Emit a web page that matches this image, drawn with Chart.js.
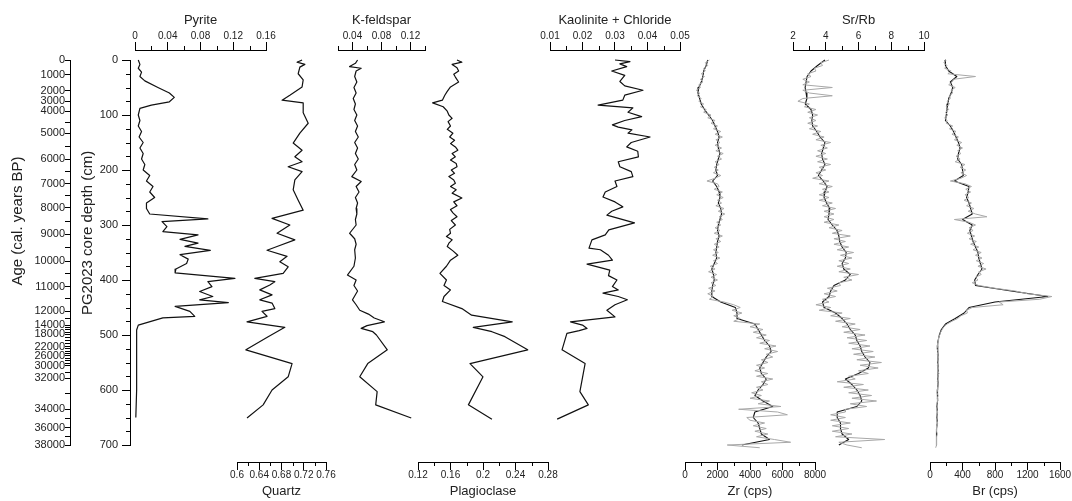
<!DOCTYPE html>
<html><head><meta charset="utf-8">
<script src="https://cdn.jsdelivr.net/npm/chart.js@4.4.1/dist/chart.umd.min.js"></script>
<style>
html,body{margin:0;padding:0;background:#fff;}
#wrap{position:relative;width:1072px;height:501px;overflow:hidden;background:#fff;}
#wrap canvas{position:absolute;top:0;}
</style></head><body><div id="wrap"></div>
<script>
// ---------------- DATA ----------------
// Age axis (labels and the core depth, cm, where each sits)
const ageLabels = ['0','1000','2000','3000','4000','5000','6000','7000','8000','9000','10000','11000','12000','14000','18000','22000','26000','30000','32000','34000','36000','38000'];
const ageLabelDepths = [0,27,56,75,93,133,180,225,269,317,366,412,457,482,499,521,538,556,579,635,669,700];
const ageMinor = [4500,5500,6500,7500,8500,9500,10500,11500,13000,15000,16000,17000,19000,20000,21000,23000,24000,25000,27000,28000,29000,31000,33000,35000,37000];
const depthTicks = [0,100,200,300,400,500,600,700];

// Mineral series (depth cm / fraction)
const pyriteDepth = [0,8,15,22,30,38,50,60,68,76,82,88,100,110,120,130,140,150,160,170,180,190,200,210,220,230,240,250,260,270,280,289,294,303,312,318,326,333,339,346,354,362,370,380,387,397,403,412,421,430,436,441,448,457,466,469,482,491,520,560,600,650];
const pyrite = [0.004,0.006,0.004,0.008,0.006,0.012,0.028,0.042,0.048,0.042,0.02,0.006,0.004,0.006,0.004,0.008,0.005,0.01,0.006,0.01,0.008,0.012,0.01,0.018,0.014,0.022,0.018,0.024,0.014,0.014,0.018,0.089,0.033,0.039,0.034,0.077,0.055,0.077,0.061,0.092,0.055,0.065,0.063,0.05,0.049,0.122,0.089,0.094,0.079,0.095,0.079,0.114,0.049,0.067,0.073,0.034,0.004,0.002,0.002,0.002,0.002,0.001];

const quartzDepth = [0,4,8,13,25,36,49,64,73,78,96,115,133,151,164,176,185,194,203,218,236,255,273,288,300,315,327,339,346,357,367,376,388,397,403,409,418,427,436,442,452,457,466,476,486,503,527,552,576,600,627,651];
const quartz = [0.717,0.708,0.722,0.713,0.710,0.719,0.717,0.695,0.681,0.719,0.719,0.728,0.713,0.701,0.717,0.704,0.717,0.692,0.717,0.704,0.701,0.710,0.719,0.663,0.695,0.672,0.704,0.672,0.654,0.690,0.677,0.692,0.683,0.632,0.668,0.659,0.641,0.663,0.641,0.663,0.668,0.645,0.654,0.618,0.686,0.656,0.616,0.699,0.692,0.663,0.647,0.618];

const kfDepth = [0,6,12,15,20,30,40,50,60,70,80,90,100,110,120,130,140,150,160,170,180,190,200,212,221,230,240,250,260,270,280,290,300,315,325,335,345,360,375,391,400,410,420,436,445,455,462,469,476,483,488,494,500,527,552,576,603,627,651];
const kfeldspar = [0.047,0.044,0.036,0.052,0.045,0.043,0.046,0.042,0.045,0.041,0.044,0.042,0.046,0.043,0.047,0.044,0.048,0.043,0.047,0.044,0.048,0.043,0.046,0.039,0.052,0.045,0.049,0.044,0.047,0.045,0.046,0.044,0.045,0.036,0.043,0.045,0.043,0.044,0.042,0.033,0.045,0.042,0.047,0.040,0.045,0.050,0.062,0.070,0.084,0.060,0.052,0.068,0.073,0.088,0.061,0.050,0.074,0.072,0.121];

const plagDepth = [0,4,8,14,20,26,31,40,49,57,64,73,78,85,93,100,106,112,120,126,133,140,146,152,158,164,170,176,182,188,194,200,206,212,218,224,230,236,242,251,258,265,272,278,285,292,300,308,315,321,327,333,339,347,355,364,375,388,400,410,418,430,439,452,464,476,486,494,503,527,552,576,627,653];
const plagioclase = [0.168,0.174,0.162,0.168,0.170,0.164,0.166,0.170,0.160,0.156,0.153,0.150,0.138,0.151,0.156,0.158,0.162,0.157,0.160,0.156,0.163,0.159,0.165,0.160,0.166,0.169,0.162,0.166,0.160,0.167,0.168,0.161,0.165,0.158,0.164,0.166,0.160,0.167,0.162,0.174,0.164,0.168,0.160,0.163,0.168,0.161,0.166,0.159,0.160,0.155,0.162,0.158,0.156,0.163,0.169,0.160,0.155,0.147,0.155,0.152,0.160,0.152,0.150,0.174,0.186,0.236,0.188,0.211,0.227,0.255,0.184,0.200,0.182,0.211];

const kaoDepth = [0,3,7,12,20,28,39,47,55,64,73,82,87,95,103,110,118,122,127,133,140,150,158,166,176,185,194,203,212,220,230,240,249,258,267,275,282,296,309,318,327,342,345,355,364,371,382,392,400,412,418,424,430,436,445,455,467,476,482,488,492,497,527,552,603,627,653];
const kaolinite = [0.030,0.0346,0.0315,0.0336,0.029,0.033,0.0315,0.033,0.0386,0.033,0.0324,0.0248,0.0355,0.034,0.0382,0.033,0.0292,0.031,0.0352,0.034,0.0408,0.035,0.0336,0.037,0.0372,0.031,0.0315,0.035,0.0355,0.030,0.0306,0.027,0.0263,0.030,0.0324,0.029,0.0275,0.036,0.0281,0.027,0.0229,0.0220,0.0255,0.028,0.0292,0.0214,0.0284,0.028,0.0306,0.0292,0.031,0.0263,0.031,0.0338,0.030,0.0275,0.0300,0.0163,0.020,0.0214,0.019,0.0152,0.0137,0.0208,0.0192,0.0218,0.0122];

// XRF series: raw every 5 cm (grey), smoothed every 10 cm (black), from 0 cm
const RAW_STEP = 5, SMOOTH_STEP = 10;
const zrRaw = [1500,1250,1400,1150,1250,1000,1200,950,1100,850,
 950,700,900,750,1000,850,1150,950,1300,1150,
 1600,1400,1850,1600,2000,1750,2200,1850,2300,1900,
 2150,1850,2250,1900,2350,2000,2250,1850,2100,1800,
 2050,1750,2200,1850,1350,2000,2100,1800,2300,1950,
 2350,2000,2250,1900,2400,2050,2450,2100,2300,1950,
 2200,1850,2150,1800,2300,1900,2200,1800,2100,1750,
 2050,1700,2150,1750,2000,1550,1850,1450,1950,1600,
 2000,1600,1900,1450,1850,1400,1750,1500,2400,3000,
 3400,2900,3500,3000,3400,3000,4600,4000,4800,4200,
 5000,4400,5200,4600,5600,4900,5700,5000,5400,4700,
 5100,4400,4900,4300,5100,4400,5400,4700,5100,4400,
 4800,4100,4700,4000,5200,4500,5900,3300,5700,6300,
 3800,4000,4900,4200,5000,4300,5100,4400,5500,6500,
 2600,4600];
const zrSmooth = [1400,1300,1150,1100,1000,850,800,900,1000,1200,
 1450,1700,1850,2000,2100,2000,2050,2150,2050,1950,
 1900,2000,1700,1950,2100,2150,2050,2200,2250,2150,
 2050,2000,2100,2000,1950,1900,1950,1800,1650,1750,
 1800,1700,1650,1650,2200,3100,3200,3200,4300,4500,
 4700,4900,5200,5300,5000,4800,4600,4700,5000,4800,
 4500,4300,4800,5400,4300,4200,4500,4600,4700,5200,
 3500];

const srRaw = [4.2,3.7,3.8,3.3,3.4,2.9,3.1,2.6,3.0,2.6,
 4.4,2.6,3.0,4.4,2.6,2.3,3.0,2.7,3.4,2.9,
 3.5,3.0,3.4,2.9,3.5,3.0,3.7,3.2,3.9,3.4,
 4.3,3.7,4.1,3.5,4.0,3.4,4.1,3.5,4.3,3.6,
 4.0,3.4,3.8,3.2,4.2,3.6,4.4,3.8,4.2,3.6,
 4.2,3.6,4.4,3.8,4.6,3.9,4.5,3.9,4.5,3.9,
 4.8,4.2,5.0,4.4,5.5,4.5,5.2,4.5,5.4,4.7,
 5.7,4.9,5.6,4.8,5.4,4.7,5.5,4.8,6.0,5.1,
 5.6,4.8,4.9,4.1,4.7,3.9,4.6,3.8,4.2,3.4,
 4.3,3.6,5.0,4.3,5.5,4.6,5.8,5.0,6.1,5.1,
 6.4,5.3,6.5,5.4,6.7,5.6,6.9,5.7,7.0,5.9,
 7.4,6.1,7.2,6.0,6.6,5.4,5.8,4.7,6.3,5.1,
 6.6,5.4,6.8,5.6,7.1,5.5,6.5,5.2,5.2,4.3,
 5.2,4.3,5.5,4.4,5.4,4.4,5.6,4.6,7.6,4.8,
 5.3,6.2];
const srSmooth = [3.95,3.5,3.1,2.86,2.8,2.74,2.8,2.85,2.75,3.1,
 3.2,3.15,3.2,3.45,3.65,3.95,3.85,3.75,3.8,3.95,
 3.75,3.55,3.85,4.08,3.95,3.9,4.05,4.25,4.2,4.14,
 4.4,4.69,4.8,4.85,5.0,5.25,5.2,5.0,5.1,5.5,
 5.2,4.5,4.3,4.2,3.8,3.9,4.6,5.0,5.3,5.5,
 5.8,5.9,6.1,6.2,6.4,6.7,6.6,6.0,5.2,5.6,
 5.9,6.1,6.2,5.9,4.7,4.7,4.9,4.9,5.0,5.4,
 4.8];

const brRaw = [200,170,210,180,260,220,560,290,270,230,
 310,260,280,240,250,210,240,200,230,190,
 220,180,210,200,280,240,320,270,350,300,
 390,330,400,340,380,320,370,310,430,370,
 440,380,450,380,250,430,510,440,500,430,
 480,420,510,450,540,470,560,700,300,480,
 560,480,530,460,550,480,570,500,600,530,
 630,560,640,570,660,590,690,600,630,560,
 590,520,600,800,1050,1200,1500,1350,850,900,
 520,450,460,380,340,270,210,170,150,130,
 120,105,105,95,95,85,100,90,105,95,
 100,90,105,95,110,95,100,90,105,95,
 95,85,100,90,95,85,90,80,95,85,
 90,80,95,85,85,75,90,80,85,75,
 80,70];
const brSmooth = [185,190,230,330,250,280,260,230,220,210,
 200,190,250,290,320,350,370,350,340,390,
 400,410,300,480,470,450,480,500,520,400,
 520,490,510,530,560,590,600,620,640,590,
 550,560,1000,1450,800,480,420,310,190,140,
 115,100,90,95,100,95,100,100,95,100,
 90,95,90,85,90,85,90,80,85,80,
 75];

// Axis ticks per panel
const pyriteTicks=[0,0.04,0.08,0.12,0.16], pyriteTickLabels=['0','0.04','0.08','0.12','0.16'], pyriteMinor=[0.02,0.06,0.10,0.14];
const quartzTicks=[0.6,0.64,0.68,0.72,0.76], quartzTickLabels=['0.6','0.64','0.68','0.72','0.76'], quartzMinor=[0.62,0.66,0.70,0.74];
const kfTicks=[0.04,0.08,0.12], kfTickLabels=['0.04','0.08','0.12'], kfMinor=[0.02,0.06,0.10,0.14];
const plagTicks=[0.12,0.16,0.2,0.24,0.28], plagTickLabels=['0.12','0.16','0.2','0.24','0.28'], plagMinor=[0.14,0.18,0.22,0.26];
const kaoTicks=[0.01,0.02,0.03,0.04,0.05], kaoTickLabels=['0.01','0.02','0.03','0.04','0.05'], kaoMinor=[0.015,0.025,0.035,0.045];
const zrTicks=[0,2000,4000,6000,8000], zrTickLabels=['0','2000','4000','6000','8000'], zrMinor=[1000,3000,5000,7000];
const srTicks=[2,4,6,8,10], srTickLabels=['2','4','6','8','10'], srMinor=[3,5,7,9];
const brTicks=[0,400,800,1200,1600], brTickLabels=['0','400','800','1200','1600'], brMinor=[200,600,1000,1400];

// ---------------- LAYOUT ----------------
const FONT = "'Liberation Sans', Arial, Helvetica, sans-serif";
const TXT = '#222';
const H = 501;
const AX_TOP = 50, AX_BOT = 462;      // pixel rows of top / bottom axis lines
const D0 = 60, D700 = 445;            // pixel rows of depth 0 and 700 cm
const PXCM = (D700 - D0) / 700;
const Y_MIN = -(D0 - AX_TOP) / PXCM, Y_MAX = 700 + (AX_BOT - D700) / PXCM;
const wrap = document.getElementById('wrap');

function makeCanvas(left, width){
  const c = document.createElement('canvas');
  c.width = width; c.height = H;
  c.style.left = left + 'px'; c.style.width = width + 'px'; c.style.height = H + 'px';
  wrap.appendChild(c);
  return c;
}
function minorPlugin(axisId, values, len, pos){
  return { id: 'minorTicks', afterDraw(chart){
    const s = chart.scales[axisId], ctx = chart.ctx;
    ctx.save(); ctx.strokeStyle = '#000'; ctx.lineWidth = 1; ctx.beginPath();
    values.forEach(v => {
      const p = Math.round(s.getPixelForValue(v)) + 0.5;
      if (pos === 'top'){ ctx.moveTo(p, s.bottom); ctx.lineTo(p, s.bottom - len); }
      else if (pos === 'bottom'){ ctx.moveTo(p, s.top); ctx.lineTo(p, s.top + len); }
      else { ctx.moveTo(s.right, p); ctx.lineTo(s.right - len, p); }
    });
    ctx.stroke(); ctx.restore();
  }};
}
function axisTitlePlugin(text, cx, cy, size){
  return { id: 'axisTitle', afterDraw(chart){
    const ctx = chart.ctx;
    ctx.save(); ctx.translate(cx, cy); ctx.rotate(-Math.PI / 2);
    ctx.font = size + 'px ' + FONT; ctx.fillStyle = TXT; ctx.textAlign = 'center'; ctx.textBaseline = 'middle';
    ctx.fillText(text, 0, 0); ctx.restore();
  }};
}
const zip = (ys, xs) => xs.map((x, i) => ({x, y: ys[i]})).filter(p => p.y !== undefined);
const stepPts = (vals, step) => vals.map((v, i) => ({x: v, y: i * step}));
const lineDs = (data, color, width) => ({data, showLine: true, borderColor: color, borderWidth: width, pointRadius: 0, borderJoinStyle: 'round', fill: false});

function panel(o){
  const pad = 28;
  const c = makeCanvas(o.x0 - pad, (o.x1 - o.x0) + 2 * pad);
  const top = o.pos === 'top';
  new Chart(c, {
    type: 'scatter',
    data: {datasets: o.datasets},
    options: {
      responsive: false, animation: false, devicePixelRatio: 1, events: [],
      layout: {padding: {left: pad, right: pad, top: top ? 0 : AX_TOP, bottom: top ? H - AX_BOT : 0}},
      plugins: {legend: {display: false}, tooltip: {enabled: false}},
      scales: {
        x: {
          type: 'linear', position: o.pos, min: o.min, max: o.max,
          afterFit(s){ s.height = top ? AX_TOP : H - AX_BOT; },
          afterBuildTicks(s){ s.ticks = o.ticks.map(v => ({value: v})); },
          grid: {drawOnChartArea: false, drawTicks: true, tickLength: 8, color: '#000', tickColor: '#000', lineWidth: 1},
          border: {display: true, color: '#000', width: 1},
          ticks: {autoSkip: false, maxRotation: 0, padding: top ? 0 : -1, color: TXT, font: {family: FONT, size: 10},
                  callback: (v, i) => o.labels[i]},
          title: {display: true, text: o.title, color: TXT, font: {family: FONT, size: 13},
                  padding: top ? {top: 13, bottom: 0} : {top: 0, bottom: 1.7}}
        },
        y: {type: 'linear', display: false, min: Y_MIN, max: Y_MAX, reverse: true}
      }
    },
    plugins: [minorPlugin('x', o.minor, 4, o.pos)]
  });
}

function leftAxis(o){
  const c = makeCanvas(o.left, o.width);
  new Chart(c, {
    type: 'scatter', data: {datasets: []},
    options: {
      responsive: false, animation: false, devicePixelRatio: 1, events: [],
      layout: {padding: {left: 0, right: 0, top: D0, bottom: H - D700}},
      plugins: {legend: {display: false}, tooltip: {enabled: false}},
      scales: {
        x: {display: false, min: 0, max: 1},
        y: {
          type: 'linear', position: 'left', min: 0, max: 700, reverse: true,
          afterFit(s){ s.width = o.axisW; },
          afterBuildTicks(s){ s.ticks = o.ticks.map(v => ({value: v})); },
          grid: {drawOnChartArea: false, drawTicks: true, tickLength: o.tickLen, color: '#000', tickColor: '#000', lineWidth: 1},
          border: {display: true, color: '#000', width: 1},
          ticks: {autoSkip: false, padding: o.tickPad, color: TXT, font: {family: FONT, size: 11}, callback: (v, i) => o.labels[i]},
          title: {display: false}
        }
      }
    },
    plugins: [minorPlugin('y', o.minor, 4, 'left'), axisTitlePlugin(o.title, o.titleX - o.left, o.titleY, 15)]
  });
}

// Age axis ticks: labelled ages + unlabelled intermediate ages placed with the age model
const ageVals = ageLabels.map(Number);
function ageToDepth(a){
  for (let i = 1; i < ageVals.length; i++){
    if (a <= ageVals[i]){ const t = (a - ageVals[i-1]) / (ageVals[i] - ageVals[i-1]); return ageLabelDepths[i-1] + t * (ageLabelDepths[i] - ageLabelDepths[i-1]); }
  }
  return 700;
}
leftAxis({left: 0, width: 90, axisW: 70, title: 'Age (cal. years BP)', titleX: 18, titleY: 221, tickLen: 5, tickPad: 0,
  ticks: ageLabelDepths.concat(ageMinor.map(ageToDepth)), labels: ageLabels.concat(ageMinor.map(() => '')), minor: []});

const depthMinor = [];
for (let d = 25; d < 700; d += 25) if (d % 100) depthMinor.push(d);
leftAxis({left: 70, width: 80, axisW: 60, title: 'PG2023 core depth (cm)', titleX: 88, titleY: 233, tickLen: 8, tickPad: 4,
  ticks: depthTicks, labels: depthTicks.map(String), minor: depthMinor});

// Panels
panel({title: 'Pyrite', pos: 'top', min: 0, max: 0.16, x0: 135, x1: 266, ticks: pyriteTicks, labels: pyriteTickLabels, minor: pyriteMinor,
  datasets: [lineDs(zip(pyriteDepth, pyrite), '#111', 1.2)]});
panel({title: 'Quartz', pos: 'bottom', min: 0.6, max: 0.76, x0: 237, x1: 326, ticks: quartzTicks, labels: quartzTickLabels, minor: quartzMinor,
  datasets: [lineDs(zip(quartzDepth, quartz), '#111', 1.2)]});
panel({title: 'K-feldspar', pos: 'top', min: 0.02, max: 0.14, x0: 338, x1: 425, ticks: kfTicks, labels: kfTickLabels, minor: kfMinor,
  datasets: [lineDs(zip(kfDepth, kfeldspar), '#111', 1.2)]});
panel({title: 'Plagioclase', pos: 'bottom', min: 0.12, max: 0.28, x0: 418, x1: 548, ticks: plagTicks, labels: plagTickLabels, minor: plagMinor,
  datasets: [lineDs(zip(plagDepth, plagioclase), '#111', 1.2)]});
panel({title: 'Kaolinite + Chloride', pos: 'top', min: 0.01, max: 0.05, x0: 550, x1: 680, ticks: kaoTicks, labels: kaoTickLabels, minor: kaoMinor,
  datasets: [lineDs(zip(kaoDepth, kaolinite), '#111', 1.2)]});
panel({title: 'Zr (cps)', pos: 'bottom', min: 0, max: 8000, x0: 685, x1: 815, ticks: zrTicks, labels: zrTickLabels, minor: zrMinor,
  datasets: [lineDs(stepPts(zrRaw, RAW_STEP), '#a8a8a8', 1), lineDs(stepPts(zrSmooth, SMOOTH_STEP), '#111', 1.1)]});
panel({title: 'Sr/Rb', pos: 'top', min: 2, max: 10, x0: 793, x1: 924, ticks: srTicks, labels: srTickLabels, minor: srMinor,
  datasets: [lineDs(stepPts(srRaw, RAW_STEP), '#a8a8a8', 1), lineDs(stepPts(srSmooth, SMOOTH_STEP), '#111', 1.1)]});
panel({title: 'Br (cps)', pos: 'bottom', min: 0, max: 1600, x0: 930, x1: 1060, ticks: brTicks, labels: brTickLabels, minor: brMinor,
  datasets: [lineDs(stepPts(brRaw, RAW_STEP), '#a8a8a8', 1), lineDs(stepPts(brSmooth, SMOOTH_STEP), '#111', 1.1)]});
</script></body></html>
